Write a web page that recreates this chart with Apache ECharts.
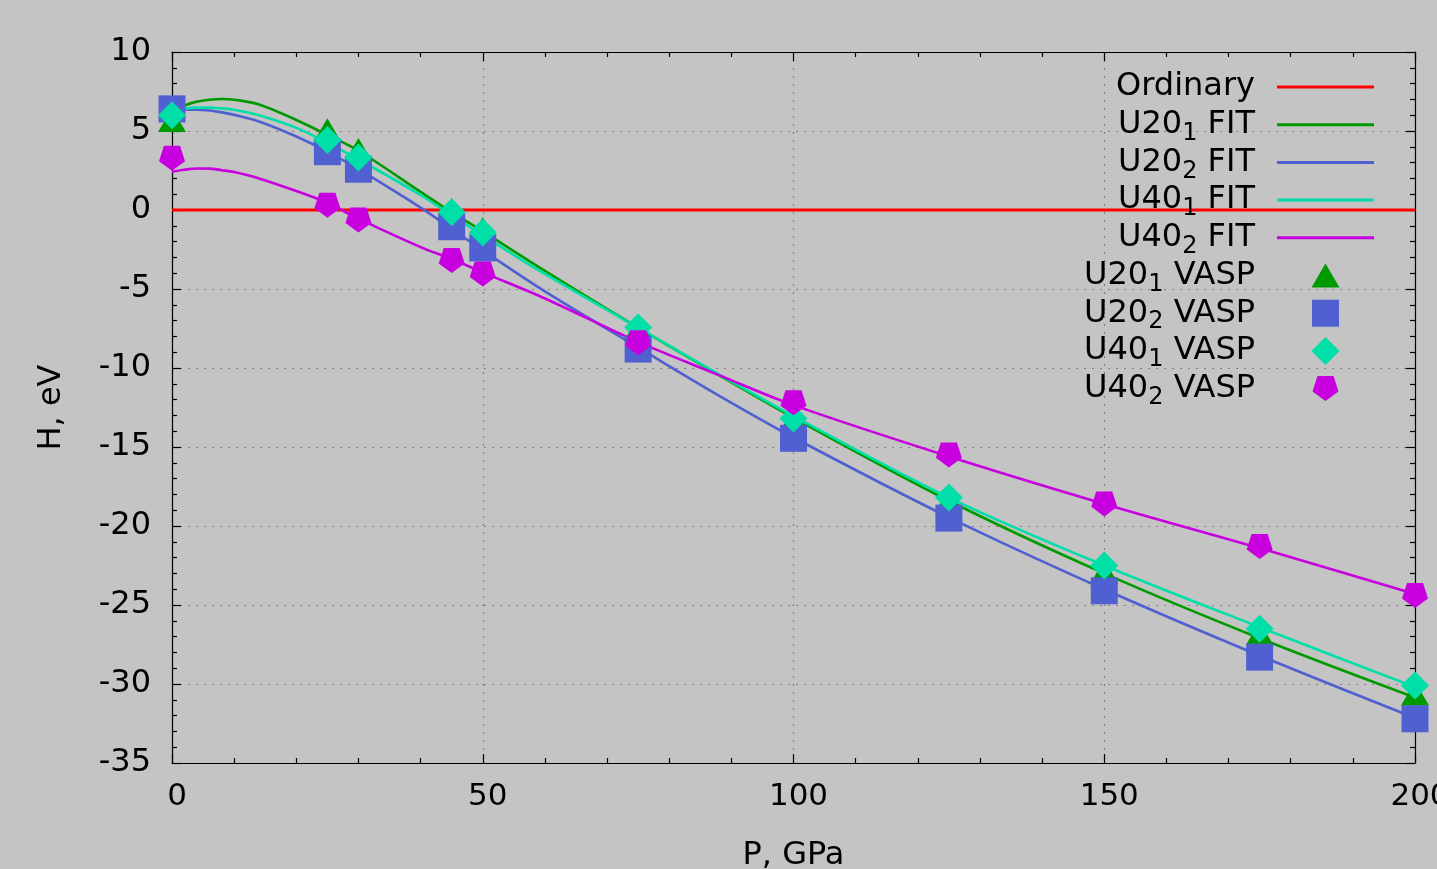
<!DOCTYPE html>
<html>
<head>
<meta charset="utf-8">
<script src="https://cdn.jsdelivr.net/npm/echarts@6/dist/echarts.min.js"></script>
<style>
html,body{margin:0;padding:0;background:#c3c4c3;}
#chart{width:1437px;height:869px;}
</style>
</head>
<body>
<div id="chart"></div>
<script>
// ---- data ----
const ordinaryP = [0, 200];
const ordinaryH = [0, 0];

const fitP = [0, 2, 4, 6, 8, 10, 14, 20, 25, 30, 40, 45, 50, 60, 75, 88, 100, 125, 150, 175, 200];
const U20_1_FIT = [6.3, 6.62, 6.86, 6.98, 7.03, 6.98, 6.68, 5.7, 4.75, 3.75, 1.15, -0.15, -1.35, -3.85, -7.45, -10.45, -13.15, -18.4, -23.0, -27.1, -30.85];
const U20_2_FIT = [6.3, 6.35, 6.35, 6.3, 6.18, 6.02, 5.6, 4.65, 3.7, 2.58, 0.15, -1.2, -2.55, -5.15, -8.7, -11.75, -14.4, -19.45, -24.0, -28.2, -32.15];
const U40_1_FIT = [6.3, 6.42, 6.48, 6.48, 6.43, 6.35, 6.0, 5.2, 4.25, 3.2, 0.95, -0.35, -1.6, -4.05, -7.45, -10.4, -13.05, -18.2, -22.5, -26.4, -30.2];
const U40_2_FIT = [2.42, 2.55, 2.63, 2.62, 2.52, 2.4, 2.0, 1.2, 0.45, -0.55, -2.35, -3.1, -3.95, -5.6, -8.35, -10.45, -12.35, -15.6, -18.6, -21.4, -24.3];

const vaspP = [0, 25, 30, 45, 50, 75, 100, 125, 150, 175, 200];
const U20_1_VASP = [5.7, 5.05, 3.8, 0.0, -1.2, -7.5, -13.3, -18.4, -22.9, -26.8, -30.6];
const U20_2_VASP = [6.4, 3.69, 2.58, -1.06, -2.4, -8.8, -14.45, -19.5, -24.1, -28.3, -32.2];
const U40_1_VASP = [6.0, 4.43, 3.32, -0.15, -1.42, -7.44, -13.2, -18.2, -22.5, -26.5, -30.1];
const U40_2_VASP = [3.27, 0.3, -0.64, -3.2, -4.05, -8.4, -12.2, -15.5, -18.6, -21.3, -24.4];

const xTicks = [0, 50, 100, 150, 200];
const yTicks = [10, 5, 0, -5, -10, -15, -20, -25, -30, -35];

// ---- helpers ----
const zip = (xs, ys) => xs.map((x, i) => [x, ys[i]]);
const FONT = 'DejaVu Sans';
const C = { red: '#ff0000', green: '#009a00', blue: '#5060d0', cyan: '#00dfa8', mag: '#c800e0' };
const pentagon = 'path://M19.1 0 L80.9 0 L100 58.8 L50 95.1 L0 58.8 Z';

// legend icons drawn inside a 97x28 frame (frame set by the two leading moveTo points)
const FRAME = 'path://M0 0 M97 28 ';
const ICON_LINE = FRAME + 'M0 12.5 L97 12.5 L97 15.5 L0 15.5 Z';
const ICON_TRI = FRAME + 'M34.5 26 L62.5 26 L48.5 2 Z';
const ICON_SQ = FRAME + 'M35 0.5 L62 0.5 L62 27.5 L35 27.5 Z';
const ICON_DIA = FRAME + 'M48.5 0 L62.5 14 L48.5 28 L34.5 14 Z';
const ICON_PENT = FRAME + 'M40.47 1.5 L56.53 1.5 L61.5 16.96 L48.5 26.5 L35.5 16.96 Z';

function fitSeries(name, ys, color) {
  return { name, type: 'line', data: zip(fitP, ys), smooth: 0.35, symbol: 'none',
    lineStyle: { color, width: 2.6 }, itemStyle: { color }, z: 2 };
}
function vaspSeries(name, ys, color, symbol, size) {
  return { name, type: 'scatter', data: zip(vaspP, ys), symbol, symbolSize: size,
    itemStyle: { color, opacity: 1 }, z: 3 };
}

const xLabelStyle = { fontFamily: FONT, fontSize: 31, color: '#000' };
const yLabelStyle = { fontFamily: FONT, fontSize: 32, color: '#000' };
const nameStyle = { fontFamily: FONT, fontSize: 32, color: '#000' };
const axisLineStyle = { color: '#000', width: 1.2 };
const gridLine = { show: true, lineStyle: { color: '#808080', width: 1.2, type: [2, 6] } };

const chart = echarts.init(document.getElementById('chart'), null, { renderer: 'canvas' });
chart.setOption({
  backgroundColor: '#c3c4c3',
  animation: false,
  grid: { left: 172, right: 22, top: 52, bottom: 106, containLabel: false, outerBoundsMode: 'none' },
  xAxis: [
    { type: 'value', min: xTicks[0], max: xTicks[xTicks.length - 1], interval: 50,
      name: 'P, GPa', nameLocation: 'middle', nameGap: 77, nameMoveOverlap: false,
      nameTextStyle: nameStyle,
      axisLine: { show: true, onZero: false, lineStyle: axisLineStyle },
      axisTick: { show: true, inside: true, length: 9, lineStyle: axisLineStyle },
      minorTick: { show: true, splitNumber: 5, length: 5, lineStyle: axisLineStyle },
      axisLabel: Object.assign({ margin: 18, padding: [0, 0, 0, 10] }, xLabelStyle),
      splitLine: gridLine },
    { type: 'value', position: 'top', min: xTicks[0], max: xTicks[xTicks.length - 1], interval: 50,
      axisLine: { show: true, onZero: false, lineStyle: axisLineStyle },
      axisTick: { show: true, inside: true, length: 9, lineStyle: axisLineStyle },
      minorTick: { show: true, splitNumber: 5, length: 5, lineStyle: axisLineStyle },
      axisLabel: { show: false }, splitLine: { show: false } }
  ],
  yAxis: [
    { type: 'value', min: yTicks[yTicks.length - 1], max: yTicks[0], interval: 5,
      name: 'H, eV', nameLocation: 'middle', nameGap: 104, nameMoveOverlap: false,
      nameTextStyle: nameStyle,
      axisLine: { show: true, onZero: false, lineStyle: axisLineStyle },
      axisTick: { show: true, inside: true, length: 9, lineStyle: axisLineStyle },
      minorTick: { show: true, splitNumber: 5, length: 5, lineStyle: axisLineStyle },
      axisLabel: Object.assign({ margin: 21 }, yLabelStyle),
      splitLine: gridLine },
    { type: 'value', position: 'right', min: yTicks[yTicks.length - 1], max: yTicks[0], interval: 5,
      axisLine: { show: true, onZero: false, lineStyle: axisLineStyle },
      axisTick: { show: true, inside: true, length: 9, lineStyle: axisLineStyle },
      minorTick: { show: true, splitNumber: 5, length: 5, lineStyle: axisLineStyle },
      axisLabel: { show: false }, splitLine: { show: false } }
  ],
  legend: {
    orient: 'vertical', align: 'right', right: 63, top: 71, padding: 0, itemGap: 0.7,
    itemWidth: 97, itemHeight: 28, selectedMode: false,
    itemStyle: { borderWidth: 0 },
    data: [
      { name: 'Ordinary', icon: ICON_LINE },
      { name: 'U20_1 FIT', icon: ICON_LINE },
      { name: 'U20_2 FIT', icon: ICON_LINE },
      { name: 'U40_1 FIT', icon: ICON_LINE },
      { name: 'U40_2 FIT', icon: ICON_LINE },
      { name: 'U20_1 VASP', icon: ICON_TRI },
      { name: 'U20_2 VASP', icon: ICON_SQ },
      { name: 'U40_1 VASP', icon: ICON_DIA },
      { name: 'U40_2 VASP', icon: ICON_PENT }
    ],
    formatter: function (name) {
      const m = name.match(/^(U\d0)_(\d)( .*)$/);
      if (m) return '{a|' + m[1] + '}{s|' + m[2] + '}{e|' + m[3] + '}';
      return '{s| }{e|' + name + '}';
    },
    textStyle: {
      color: '#000', fontFamily: FONT, fontSize: 32,
      rich: {
        a: { fontFamily: FONT, fontSize: 32, color: '#000', lineHeight: 36, verticalAlign: 'middle' },
        s: { fontFamily: FONT, fontSize: 24, color: '#000', lineHeight: 18, height: 18, verticalAlign: 'bottom' },
        e: { fontFamily: FONT, fontSize: 32, color: '#000', lineHeight: 36, verticalAlign: 'middle', padding: [0, 17, 0, 0] }
      }
    }
  },
  series: [
    { name: 'Ordinary', type: 'line', data: zip(ordinaryP, ordinaryH), symbol: 'none',
      lineStyle: { color: C.red, width: 3 }, itemStyle: { color: C.red }, z: 2 },
    fitSeries('U20_1 FIT', U20_1_FIT, C.green),
    fitSeries('U20_2 FIT', U20_2_FIT, C.blue),
    fitSeries('U40_1 FIT', U40_1_FIT, C.cyan),
    fitSeries('U40_2 FIT', U40_2_FIT, C.mag),
    vaspSeries('U20_1 VASP', U20_1_VASP, C.green, 'triangle', [28, 24]),
    vaspSeries('U20_2 VASP', U20_2_VASP, C.blue, 'rect', [27, 27]),
    vaspSeries('U40_1 VASP', U40_1_VASP, C.cyan, 'diamond', [28, 28]),
    vaspSeries('U40_2 VASP', U40_2_VASP, C.mag, pentagon, [26, 25])
  ]
});
</script>
</body>
</html>
